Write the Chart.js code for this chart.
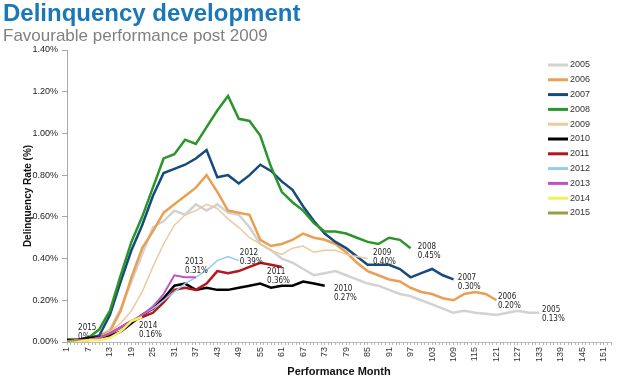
<!DOCTYPE html>
<html lang="en">
<head>
  <meta charset="UTF-8" />
  <title>Delinquency development</title>
  <script src="https://cdn.jsdelivr.net/npm/chart.js"></script>
  <style>
    body {
      margin: 0;
      background: #fff;
      font-family: "Liberation Sans", Arial, sans-serif;
    }
    #wrap {
      position: relative;
      width: 640px;
      height: 385px;
    }
    #title {
      position: absolute;
      left: 3px;
      top: 1px;
      font-size: 24px;
      line-height: 24px;
      font-weight: bold;
      color: #1b78b8;
    }
    #subtitle {
      position: absolute;
      left: 3px;
      top: 27px;
      font-size: 17px;
      line-height: 18px;
      color: #808080;
    }
    canvas {
      position: absolute;
      left: 0;
      top: 0;
    }
  </style>
</head>
<body>
  <div id="wrap">
    <canvas id="chart" width="640" height="385"></canvas>
    <div id="title">Delinquency development</div>
    <div id="subtitle">Favourable performance post 2009</div>
  </div>

  <script>
    // performance months sampled every 3 months
    const months = [1, 4, 7, 10, 13, 16, 19, 22, 25, 28, 31, 34, 37, 40, 43, 46, 49, 52, 55, 58,
      61, 64, 67, 70, 73, 76, 79, 82, 85, 88, 91, 94, 97, 100, 103, 106, 109, 112, 115, 118,
      121, 124, 127, 130, 133];

    // delinquency rate in %, one array per vintage
    const y2005 = [0.01, 0.01, 0.02, 0.03, 0.06, 0.16, 0.29, 0.42, 0.55, 0.58, 0.63, 0.61, 0.66, 0.63, 0.66,
      0.62, 0.61, 0.55, 0.47, 0.44, 0.40, 0.38, 0.35, 0.32, 0.33, 0.34, 0.32, 0.30, 0.28, 0.27,
      0.25, 0.23, 0.22, 0.20, 0.18, 0.16, 0.14, 0.15, 0.14, 0.135, 0.13, 0.14, 0.15, 0.14, 0.14];
    const y2006 = [0.01, 0.01, 0.02, 0.03, 0.05, 0.15, 0.31, 0.45, 0.53, 0.62, 0.66, 0.70, 0.74, 0.80, 0.72,
      0.63, 0.62, 0.61, 0.49, 0.46, 0.47, 0.49, 0.52, 0.50, 0.49, 0.47, 0.43, 0.38, 0.34, 0.32,
      0.30, 0.29, 0.26, 0.24, 0.23, 0.21, 0.20, 0.23, 0.24, 0.23, 0.20];
    const y2007 = [0.01, 0.01, 0.02, 0.03, 0.13, 0.29, 0.44, 0.56, 0.70, 0.81, 0.83, 0.85, 0.88, 0.92, 0.79,
      0.80, 0.76, 0.80, 0.85, 0.82, 0.77, 0.73, 0.65, 0.58, 0.52, 0.48, 0.45, 0.41, 0.37, 0.37,
      0.37, 0.35, 0.31, 0.33, 0.35, 0.32, 0.30];
    const y2008 = [0.01, 0.01, 0.02, 0.06, 0.15, 0.32, 0.48, 0.60, 0.74, 0.88, 0.90, 0.97, 0.95, 1.03, 1.11,
      1.18, 1.07, 1.06, 0.99, 0.84, 0.72, 0.67, 0.63, 0.57, 0.53, 0.53, 0.52, 0.50, 0.48, 0.47,
      0.50, 0.49, 0.45];
    const y2009 = [0.01, 0.01, 0.01, 0.02, 0.05, 0.09, 0.15, 0.24, 0.36, 0.47, 0.56, 0.61, 0.63, 0.66, 0.64,
      0.59, 0.55, 0.50, 0.47, 0.44, 0.42, 0.45, 0.46, 0.43, 0.44, 0.44, 0.42, 0.41, 0.40];
    const y2010 = [0.01, 0.01, 0.02, 0.02, 0.03, 0.05, 0.09, 0.13, 0.16, 0.21, 0.27, 0.28, 0.25, 0.26, 0.25,
      0.25, 0.26, 0.27, 0.28, 0.26, 0.27, 0.27, 0.29, 0.28, 0.27];
    const y2011 = [0.00, 0.01, 0.01, 0.02, 0.04, 0.07, 0.10, 0.12, 0.14, 0.19, 0.25, 0.26, 0.25, 0.28, 0.34,
      0.33, 0.34, 0.36, 0.38, 0.37, 0.36];
    const y2012 = [0.00, 0.01, 0.01, 0.02, 0.04, 0.07, 0.10, 0.13, 0.16, 0.20, 0.24, 0.28, 0.31, 0.345, 0.39,
      0.41, 0.39];
    const y2013 = [0.00, 0.01, 0.01, 0.02, 0.04, 0.07, 0.10, 0.13, 0.17, 0.23, 0.32, 0.31, 0.31];
    const y2014 = [0.00, 0.00, 0.01, 0.01, 0.02, 0.05, 0.10, 0.12];
    const y2015 = [0.005, 0.01];

    const years = ['2005', '2006', '2007', '2008', '2009', '2010', '2011', '2012', '2013', '2014', '2015'];
    const values = [y2005, y2006, y2007, y2008, y2009, y2010, y2011, y2012, y2013, y2014, y2015];
    const colors = ['#d2d2d2', '#e9a052', '#174a7c', '#2a962a', '#ecc9a0', '#000000',
      '#b3161c', '#94cdee', '#c450c8', '#f4ef5a', '#9b9d45'];
    const widths = [2.5, 2.5, 2.5, 2.5, 1.5, 2.5, 2.5, 1.5, 2, 2.5, 2];

    // x axis tick labels
    const xLabels = [1, 7, 13, 19, 25, 31, 37, 43, 49, 55, 61, 67, 73, 79, 85, 91, 97, 103,
      109, 115, 121, 127, 133, 139, 145, 151];

    // end-of-line labels: [year, last value, month, rate] anchor
    const endLabels = [
      ['2015', '0%', 4.1, 0.067],
      ['2014', '0.16%', 21.1, 0.077],
      ['2013', '0.31%', 34.0, 0.384],
      ['2012', '0.39%', 49.3, 0.427],
      ['2011', '0.36%', 56.9, 0.336],
      ['2010', '0.27%', 75.6, 0.254],
      ['2009', '0.40%', 86.5, 0.427],
      ['2008', '0.45%', 99.0, 0.455],
      ['2007', '0.30%', 110.2, 0.307],
      ['2006', '0.20%', 121.4, 0.216],
      ['2005', '0.13%', 133.7, 0.153]
    ];

    const datasets = years.map((yr, i) => ({
      label: yr,
      data: values[i].map((v, j) => ({ x: months[j], y: v })),
      borderColor: colors[i],
      backgroundColor: colors[i],
      borderWidth: widths[i],
      pointRadius: 0,
      fill: false,
      order: -i
    }));

    // legend drawn inside the plot on the right
    const legendPlugin = {
      id: 'sideLegend',
      afterDraw(chart) {
        const ctx = chart.ctx;
        ctx.save();
        ctx.font = '9px "Liberation Sans", Arial, sans-serif';
        ctx.textBaseline = 'middle';
        ctx.textAlign = 'left';
        chart.data.datasets.forEach((ds, i) => {
          const y = 65 + i * 14.8;
          ctx.strokeStyle = ds.borderColor;
          ctx.lineWidth = 3;
          ctx.beginPath();
          ctx.moveTo(548, y);
          ctx.lineTo(568, y);
          ctx.stroke();
          ctx.fillStyle = '#333';
          ctx.fillText(ds.label, 570, y);
        });
        ctx.restore();
      }
    };

    const endLabelPlugin = {
      id: 'endLabels',
      afterDatasetsDraw(chart) {
        const ctx = chart.ctx;
        const xs = chart.scales.x, ys = chart.scales.y;
        ctx.save();
        ctx.font = '8px "Liberation Sans Narrow", "DejaVu Sans Condensed", sans-serif';
        ctx.fillStyle = '#222';
        ctx.textBaseline = 'middle';
        endLabels.forEach(l => {
          const px = xs.getPixelForValue(l[2]);
          const py = ys.getPixelForValue(l[3]);
          ctx.fillText(l[0], px, py);
          ctx.fillText(l[1], px, py + 9);
        });
        ctx.restore();
      }
    };

    new Chart(document.getElementById('chart'), {
      type: 'line',
      data: { datasets: datasets },
      options: {
        responsive: false,
        animation: false,
        layout: { padding: { left: 0, right: 29, top: 50, bottom: 0 } },
        plugins: {
          legend: { display: false },
          tooltip: { enabled: false }
        },
        scales: {
          x: {
            type: 'linear',
            min: 1,
            max: 153,
            afterBuildTicks: axis => {
              const t = [];
              for (let m = 1; m <= 153; m++) t.push({ value: m });
              axis.ticks = t;
            },
            afterFit: s => { s.height = 43; },
            ticks: {
              autoSkip: false,
              minRotation: 90,
              maxRotation: 90,
              padding: 2,
              color: '#333',
              font: { size: 9, family: '"Liberation Sans", Arial, sans-serif' },
              callback: v => xLabels.includes(v) ? String(v) : ''
            },
            grid: { drawOnChartArea: false, tickLength: 3, color: '#b8b8b8' },
            border: { color: '#b8b8b8' },
            title: {
              display: true,
              text: 'Performance Month',
              color: '#111',
              font: { size: 11, weight: 'bold', family: '"Liberation Sans", Arial, sans-serif' },
              padding: { top: 0, bottom: 6 }
            }
          },
          y: {
            min: 0,
            max: 1.4,
            afterFit: s => { s.width = 67; },
            ticks: {
              stepSize: 0.2,
              padding: 4,
              color: '#222',
              font: { size: 9, family: '"Liberation Sans", Arial, sans-serif' },
              callback: v => v.toFixed(2) + '%'
            },
            grid: { drawOnChartArea: false, tickLength: 5, color: '#a8a8a8' },
            border: { color: '#a8a8a8' },
            title: {
              display: true,
              text: 'Delinquency Rate (%)',
              color: '#111',
              font: { size: 10, weight: 'bold', family: '"Liberation Sans", Arial, sans-serif' },
              padding: { top: 22, bottom: 0 }
            }
          }
        }
      },
      plugins: [endLabelPlugin, legendPlugin]
    });
  </script>
</body>
</html>
